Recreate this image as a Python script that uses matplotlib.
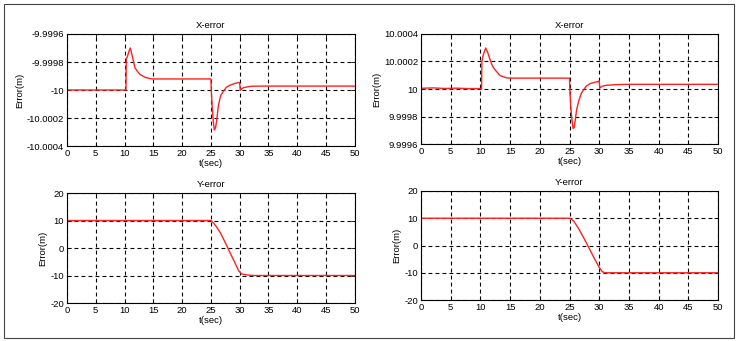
import matplotlib
matplotlib.use("Agg")
import matplotlib.pyplot as plt
from matplotlib.ticker import FixedLocator, FixedFormatter

plt.rcParams["font.family"] = ["Liberation Sans", "DejaVu Sans"]

SMALL_FONT = 6.8
RED = "#ff2020"

# X-error, left panel
x_left_t = [0, 10.25, 10.3, 10.5, 10.8, 11.0, 11.3, 11.8, 12.3, 12.7, 13.2, 13.6,
            14.4, 15, 25, 25.05, 25.2, 25.4, 25.6, 25.8, 26.0, 26.3, 26.7, 27.2,
            27.7, 28.3, 29.0, 29.9, 30.0, 30.1, 30.4, 30.7, 31.3, 32.1, 34, 50]
x_left_v = [-10.0, -10.0, -9.99978, -9.99976, -9.99972, -9.99970, -9.99975,
            -9.99984, -9.99987, -9.99989, -9.99990, -9.99991, -9.999918,
            -9.999921, -9.999921, -9.99999, -10.0001, -10.00022, -10.000286,
            -10.00027, -10.00022, -10.00011, -10.00004, -10.000007, -9.99998,
            -9.999966, -9.999955, -9.999946, -9.99995, -10.0, -9.99999,
            -9.999983, -9.999978, -9.999973, -9.999972, -9.999972]

# X-error, right panel
x_right_t = [0, 2, 4, 6, 8, 10.2, 10.25, 10.5, 10.9, 11.2, 11.6, 12.0, 12.4,
             13.3, 14.4, 15, 25, 25.05, 25.2, 25.4, 25.6, 25.8, 26.2, 26.6,
             27.0, 27.8, 28.5, 29.5, 29.9, 30.0, 30.1, 30.5, 31.2, 33, 35, 50]
x_right_v = [10.000005, 10.000008, 10.000004, 10.000006, 10.000003, 10.000003,
             10.0002, 10.00025, 10.000298, 10.00027, 10.000217, 10.00017,
             10.000143, 10.000098, 10.000081, 10.000079, 10.000079, 10.0,
             9.99988, 9.99978, 9.999713, 9.99972, 9.99985, 9.99992, 9.99997,
             10.00002, 10.00004, 10.000051, 10.000054, 10.00006, 10.000007,
             10.00002, 10.000027, 10.000032, 10.000034, 10.000034]

# Y-error, left panel
y_left_t = [0, 25, 25.5, 26.0, 26.6, 27.4, 28.3, 29.0, 29.8, 30.3, 30.8, 31.3,
            32.4, 50]
y_left_v = [10, 10, 9.0, 7.6, 5.7, 2.4, -1.6, -4.6, -8.2, -9.4, -9.6, -9.8,
            -10, -10]

# Y-error, right panel
y_right_t = [0, 25.1, 25.7, 26.5, 27.4, 28.3, 29.2, 30.0, 30.5, 31.0, 50]
y_right_v = [10, 10, 9.0, 6.3, 2.8, -1.0, -4.8, -8.0, -9.6, -10, -10]

t_ticks = [0, 5, 10, 15, 20, 25, 30, 35, 40, 45, 50]
x_left_ticks = [-10.0004, -10.0002, -10.0, -9.9998, -9.9996]
x_left_labels = ["-10.0004", "-10.0002", "-10", "-9.9998", "-9.9996"]
x_right_ticks = [9.9996, 9.9998, 10.0, 10.0002, 10.0004]
x_right_labels = ["9.9996", "9.9998", "10", "10.0002", "10.0004"]
y_ticks = [-20, -10, 0, 10, 20]
y_labels = ["-20", "-10", "0", "10", "20"]


def setup_axis(ax, title, yticks, ylabels):
    ax.set_xlim(0, 50)
    ax.set_ylim(yticks[0], yticks[-1])
    ax.xaxis.set_major_locator(FixedLocator(t_ticks))
    ax.yaxis.set_major_locator(FixedLocator(yticks))
    ax.yaxis.set_major_formatter(FixedFormatter(ylabels))
    ax.grid(True, color="black", linestyle=(0, (3.5, 2.8)), linewidth=0.8)
    ax.tick_params(direction="in", length=3, width=0.6, labelsize=SMALL_FONT,
                   pad=2, top=True, right=True)
    for side in ["top", "bottom", "left", "right"]:
        ax.spines[side].set_linewidth(0.8)
    ax.set_title(title, fontsize=SMALL_FONT, pad=4)
    ax.set_xlabel("t(sec)", fontsize=SMALL_FONT, labelpad=1)
    ax.set_ylabel("Error(m)", fontsize=SMALL_FONT, labelpad=2)


fig = plt.figure(figsize=(7.4, 3.41), dpi=100)
ax_tl = fig.add_axes([0.0905, 0.5718, 0.389, 0.3285])
ax_tr = fig.add_axes([0.5689, 0.5777, 0.4014, 0.3226])
ax_bl = fig.add_axes([0.0905, 0.1114, 0.389, 0.3226])
ax_br = fig.add_axes([0.5689, 0.1202, 0.4014, 0.3197])

ax_tl.plot(x_left_t, x_left_v, color=RED, linewidth=1.0)
setup_axis(ax_tl, "X-error", x_left_ticks, x_left_labels)
ax_tr.plot(x_right_t, x_right_v, color=RED, linewidth=1.0)
setup_axis(ax_tr, "X-error", x_right_ticks, x_right_labels)
ax_bl.plot(y_left_t, y_left_v, color=RED, linewidth=1.0)
setup_axis(ax_bl, "Y-error", y_ticks, y_labels)
ax_br.plot(y_right_t, y_right_v, color=RED, linewidth=1.0)
setup_axis(ax_br, "Y-error", y_ticks, y_labels)

# outer frame round the whole figure
fig.add_artist(plt.Rectangle((0.0054, 0.0088), 0.9865, 0.9795,
                             transform=fig.transFigure, fill=False,
                             edgecolor="#444444", linewidth=0.8))

fig.savefig("out.png", dpi=100)
